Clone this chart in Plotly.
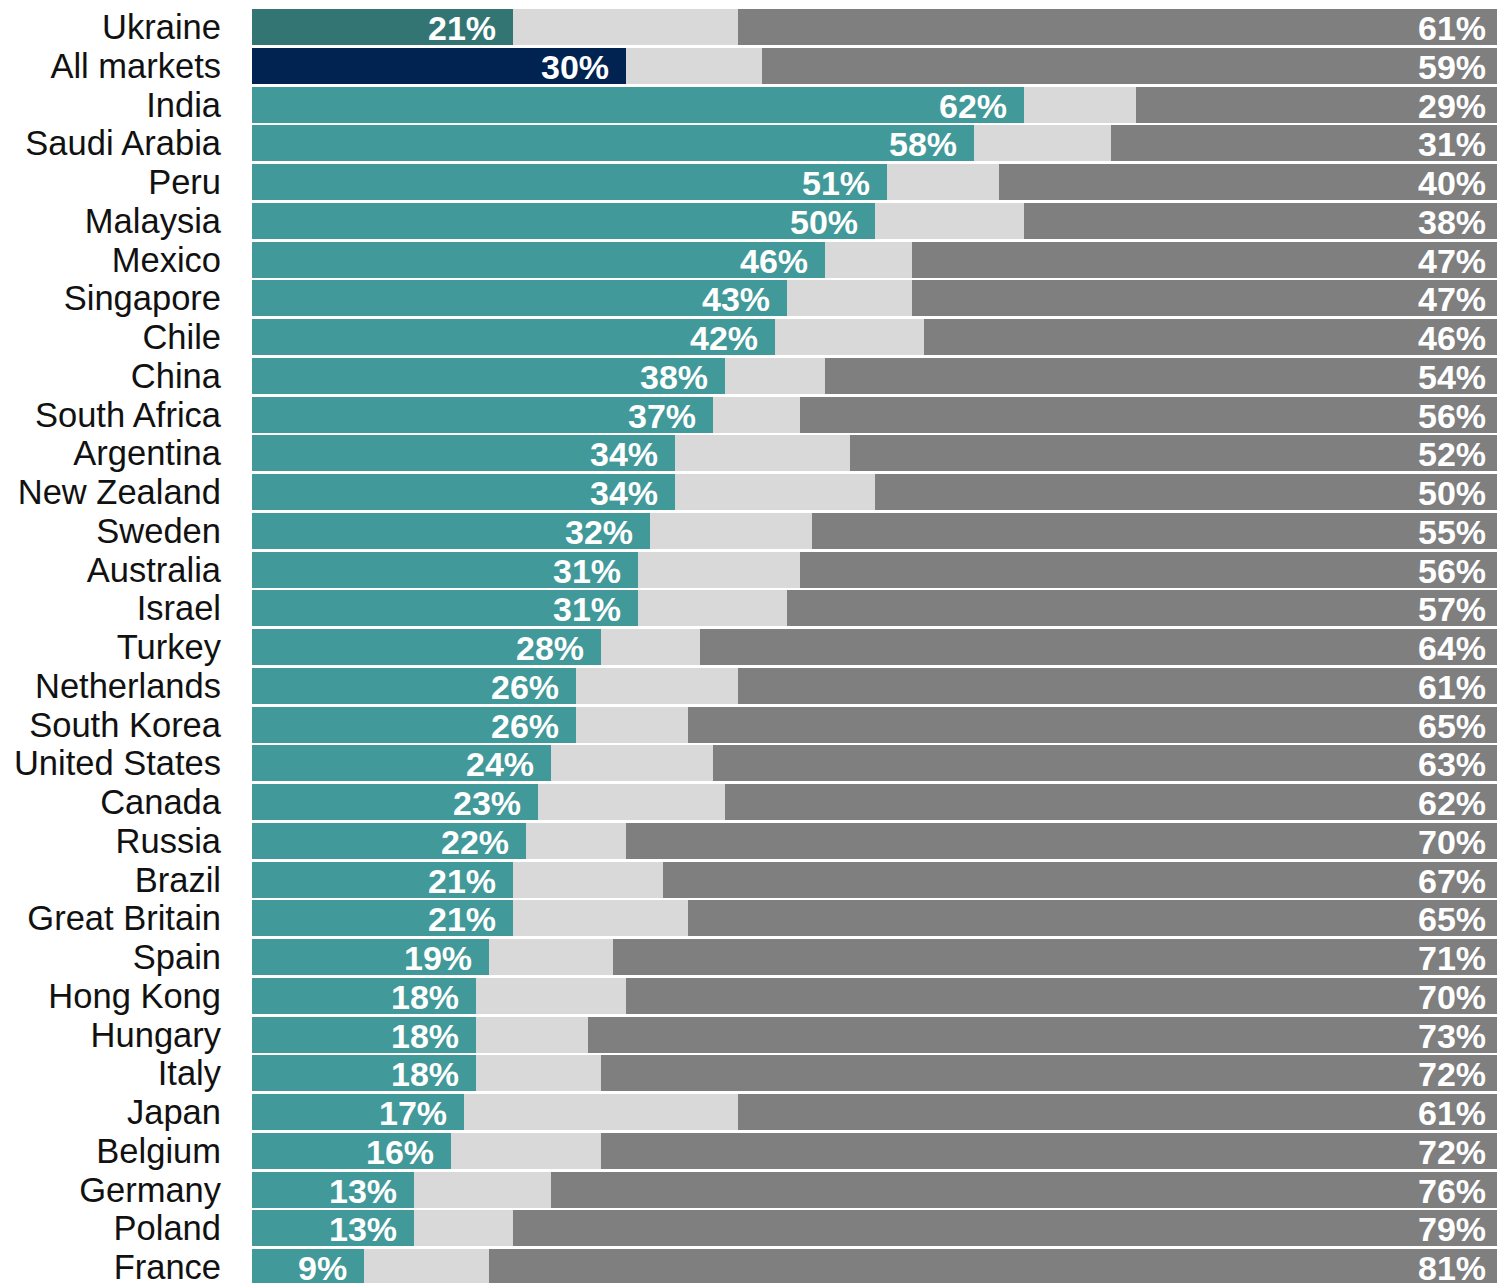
import plotly.graph_objects as go

countries = ["Ukraine", "All markets", "India", "Saudi Arabia", "Peru", "Malaysia", "Mexico",
             "Singapore", "Chile", "China", "South Africa", "Argentina", "New Zealand", "Sweden",
             "Australia", "Israel", "Turkey", "Netherlands", "South Korea", "United States",
             "Canada", "Russia", "Brazil", "Great Britain", "Spain", "Hong Kong", "Hungary",
             "Italy", "Japan", "Belgium", "Germany", "Poland", "France"]
first = [21, 30, 62, 58, 51, 50, 46, 43, 42, 38, 37, 34, 34, 32, 31, 31, 28, 26, 26, 24,
         23, 22, 21, 21, 19, 18, 18, 18, 17, 16, 13, 13, 9]
last = [61, 59, 29, 31, 40, 38, 47, 47, 46, 54, 56, 52, 50, 55, 56, 57, 64, 61, 65, 63,
        62, 70, 67, 65, 71, 70, 73, 72, 61, 72, 76, 79, 81]
middle = [100 - f - l for f, l in zip(first, last)]

TEAL = "#429999"
first_colors = [TEAL] * len(countries)
first_colors[0] = "#337573"
first_colors[1] = "#002352"

fig = go.Figure()
fig.add_bar(y=countries, x=first, orientation="h", marker=dict(color=first_colors, line_width=0))
fig.add_bar(y=countries, x=middle, orientation="h", marker=dict(color="#d9d9d9", line_width=0))
fig.add_bar(y=countries, x=last, orientation="h", marker=dict(color="#7f7f7f", line_width=0))

LABEL_FONT = dict(family="Liberation Sans, Arial", size=34, color="white", weight="bold")
annots = []
for c, f, l in zip(countries, first, last):
    annots.append(dict(x=f, y=c, xref="x", yref="y", text=f"{f}%", showarrow=False,
                       xanchor="right", yanchor="middle", xshift=-15, yshift=-1,
                       font=LABEL_FONT))
    annots.append(dict(x=100, y=c, xref="x", yref="y", text=f"{l}%", showarrow=False,
                       xanchor="right", yanchor="middle", xshift=-9, yshift=-1,
                       font=LABEL_FONT))

fig.update_layout(
    barmode="stack",
    bargap=0.07,
    width=1497, height=1283,
    margin=dict(l=252, r=0, t=0, b=0, pad=0),
    plot_bgcolor="white", paper_bgcolor="white",
    showlegend=False,
    annotations=annots,
    font=dict(family="Liberation Sans, Arial", size=34.5, color="#111111"),
)
fig.update_xaxes(range=[0, 100], visible=False, showgrid=False, zeroline=False, automargin=False)
fig.update_yaxes(range=[32.41, -0.70], showgrid=False, zeroline=False, ticks="",
                 tickmode="array", tickvals=countries, ticktext=countries,
                 automargin=False, ticklabelstandoff=30,
                 tickfont=dict(family="Liberation Sans, Arial", size=34.5, color="#111111"))

fig.write_html("out.html", config={"displayModeBar": False},
               post_script="document.body.style.margin='0';document.body.style.overflow='hidden';")
